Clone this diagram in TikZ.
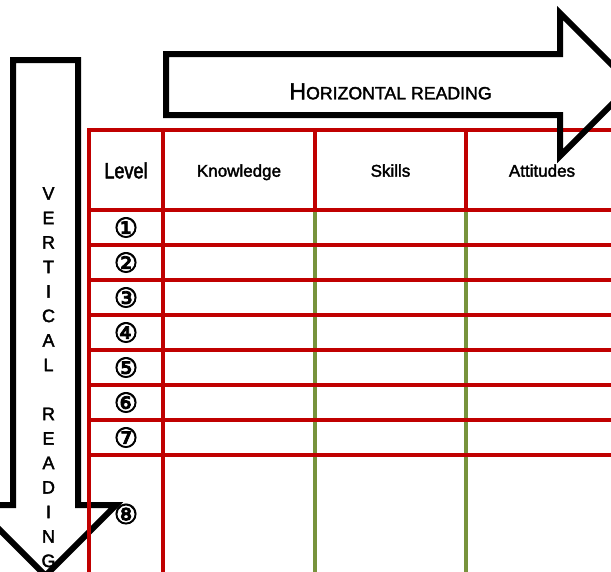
\documentclass[tikz,border=0pt]{standalone}
\usepackage{fontspec}
\setmainfont{Liberation Sans}[RawFeature={embolden=2}]
\newfontfamily\narrowfont{Liberation Sans}[FakeStretch=0.82, RawFeature={embolden=2}]
\newfontfamily\circfont{DejaVu Sans}[RawFeature={embolden=3}]
\definecolor{tablered}{HTML}{C00000}
\definecolor{tablegreen}{HTML}{77933C}
\tikzset{
  bigarrow/.style={draw=black, line width=6pt, line join=miter},
  redline/.style={draw=tablered, line width=4.5pt, line join=miter},
  greenline/.style={draw=tablegreen, line width=4pt},
  levelnum/.style={font=\circfont\fontsize{27}{30}\selectfont, inner sep=0pt},
  colhead/.style={font=\fontsize{17}{20}\selectfont, anchor=base, inner sep=0pt},
}
\begin{document}
\begin{tikzpicture}[x=1pt, y=-1pt]
    \useasboundingbox (0,0) rectangle (611,571);
    \clip (0,0) rectangle (611,571);

    % Vertical reading arrow
    \draw[bigarrow] (13,60) -- (78,60) -- (78,505) -- (116,505) -- (45.5,575.5)
        -- (-25,505) -- (13,505) -- cycle;
    \node[font=\fontsize{18}{24.5}\selectfont, align=center, anchor=north, inner sep=0pt]
        (vreading) at (48.5,187) {V\\E\\R\\T\\I\\C\\A\\L\\[24.5pt]R\\E\\A\\D\\I\\N\\G};

    % Table grid
    \draw[greenline] (315,210) -- (315,580);
    \draw[greenline] (466,210) -- (466,580);
    \draw[redline] (620,130) -- (89,130) -- (89,580);
    \draw[redline] (163,130) -- (163,580);
    \draw[redline] (315,130) -- (315,210);
    \draw[redline] (466,130) -- (466,210);
    \draw[redline] (89,210) -- (620,210);
    \draw[redline] (89,245) -- (620,245);
    \draw[redline] (89,280) -- (620,280);
    \draw[redline] (89,315) -- (620,315);
    \draw[redline] (89,350) -- (620,350);
    \draw[redline] (89,385) -- (620,385);
    \draw[redline] (89,420) -- (620,420);
    \draw[redline] (89,455) -- (620,455);

    % Header
    \node[anchor=base, inner sep=0pt, font=\narrowfont\fontsize{22}{26}\selectfont] (level) at (126,178.3) {Level};
    \node[colhead] (knowledge) at (239,176.7) {Knowledge};
    \node[colhead] (skills) at (390.5,176.7) {Skills};
    \node[colhead] (attitudes) at (542,176.7) {Attitudes};

    % Levels
    \node[levelnum] (lvlone) at (126,227.5) {①};
    \node[levelnum] (lvltwo) at (126,262.5) {②};
    \node[levelnum] (lvlthree) at (126,297.5) {③};
    \node[levelnum] (lvlfour) at (126,332.5) {④};
    \node[levelnum] (lvlfive) at (126,367.5) {⑤};
    \node[levelnum] (lvlsix) at (126,402.5) {⑥};
    \node[levelnum] (lvlseven) at (126,437.5) {⑦};
    \node[levelnum] (lvleight) at (126,514) {⑧};

    % Horizontal reading arrow
    \draw[bigarrow] (166,54) -- (560,54) -- (560,13) -- (631.5,84.5) -- (560,156)
        -- (560,115) -- (166,115) -- cycle;
    \node[anchor=base, inner sep=0pt, font=\fontsize{17.7}{21}\selectfont] (hreading) at (390.5,99.3)
        {{\fontsize{23.3}{28}\selectfont H}ORIZONTAL READING};
\end{tikzpicture}
\end{document}
